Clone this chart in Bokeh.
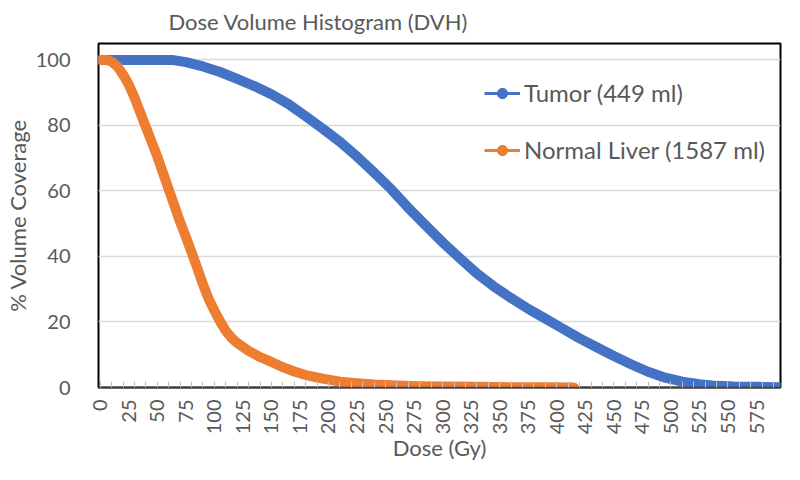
from math import pi
from bokeh.plotting import figure
from bokeh.models import FixedTicker, Range1d, Legend, LegendItem
from bokeh.embed import file_html
from bokeh.resources import INLINE

# ---- data ----
tumor_dose = [0, 25, 50, 63, 75, 90, 105, 120, 135, 150, 165, 180, 195, 210, 225, 240,
              255, 270, 285, 300, 315, 330, 345, 360, 375, 390, 405, 420, 435, 450, 465,
              480, 495, 510, 525, 540, 555, 575, 595]
tumor_pct = [100, 100, 100, 100, 99.3, 98, 96.3, 94.2, 92, 89.5, 86.5, 82.8, 79, 75, 70.5, 65.6,
             60.5, 54.8, 49.5, 44.3, 39.5, 34.8, 30.8, 27.3, 24, 21, 18, 15, 12.3, 9.6, 7.1,
             4.8, 3, 1.8, 1, 0.5, 0.3, 0.2, 0.1]
liver_dose = [0, 5, 10, 15, 20, 25, 30, 35, 40, 45, 50, 55, 60, 65, 70, 75, 80, 85, 90, 95,
              100, 105, 110, 115, 120, 130, 140, 150, 160, 170, 180, 195, 210, 225, 240, 260,
              280, 300, 330, 360, 390, 415]
liver_pct = [100, 100, 99.5, 98, 95.5, 92.5, 88.5, 84, 79.5, 75, 70.5, 65.5, 60.5, 55.5, 50.5, 46,
             41.3, 36.5, 31.5, 27, 23.5, 20.2, 17.3, 15.2, 13.6, 11.2, 9.3, 7.8, 6.2, 4.9, 3.8, 2.7,
             1.8, 1.3, 0.9, 0.6, 0.4, 0.3, 0.2, 0.1, 0.05, 0]
x_label_ticks = list(range(0, 600, 25))
x_mark_ticks = list(range(0, 600, 10))
y_ticks = [0, 20, 40, 60, 80, 100]
series_names = ["Tumor (449 ml)", "Normal Liver (1587 ml)"]

BLUE = "#4472C4"
ORANGE = "#ED7D31"
TXT = "#595959"
FONT = "Lato"

p = figure(width=784, height=464, output_backend="svg", toolbar_location=None,
           x_range=Range1d(-1.5, 596), y_range=Range1d(0, 105),
           min_border_left=89, min_border_right=4, min_border_top=36, min_border_bottom=0)
p.outline_line_color = "black"
p.outline_line_width = 2
p.background_fill_color = "white"
p.border_fill_color = "white"

p.title.text = "Dose Volume Histogram (DVH)"
p.title.align = "left"
p.title.vertical_align = "top"
p.title.offset = 70
p.title.standoff = 14
p.title.text_font = FONT
p.title.text_font_size = "22px"
p.title.text_font_style = "normal"
p.title.text_color = TXT

# y axis
p.yaxis.ticker = FixedTicker(ticks=y_ticks)
p.yaxis.axis_line_color = None
p.yaxis.major_tick_line_color = None
p.yaxis.minor_tick_line_color = None
p.yaxis.major_label_text_font = FONT
p.yaxis.major_label_text_font_size = "20px"
p.yaxis.major_label_text_color = TXT
p.yaxis.major_label_standoff = 22
p.yaxis.axis_label = "% Volume Coverage"
p.yaxis.axis_label_text_font = FONT
p.yaxis.axis_label_text_font_size = "22px"
p.yaxis.axis_label_text_font_style = "normal"
p.yaxis.axis_label_text_color = TXT
p.yaxis.axis_label_standoff = 2
p.ygrid.ticker = FixedTicker(ticks=y_ticks)
p.ygrid.grid_line_color = "#d9d9d9"
p.ygrid.grid_line_width = 1.5
p.xgrid.visible = False

# x axis: labels every 25, small inside tick marks every 10
xa = p.xaxis[0]
xa.ticker = FixedTicker(ticks=x_label_ticks, minor_ticks=x_mark_ticks)
xa.major_tick_in = 0
xa.major_tick_out = 0
xa.minor_tick_in = 6
xa.minor_tick_out = 0
xa.minor_tick_line_color = "#bfbfbf"
xa.minor_tick_line_width = 1
xa.axis_line_color = "#404040"
xa.axis_line_width = 1.5
xa.major_label_orientation = pi / 2
xa.major_label_standoff = 12
xa.major_label_text_font = FONT
xa.major_label_text_font_size = "20px"
xa.major_label_text_color = TXT
xa.axis_label = "Dose (Gy)"
xa.axis_label_text_font = FONT
xa.axis_label_text_font_size = "22px"
xa.axis_label_text_font_style = "normal"
xa.axis_label_text_color = TXT
xa.axis_label_standoff = -3

# legend proxies (thin line + dot), drawn underneath the thick curves
lt = p.line(tumor_dose, tumor_pct, line_color=BLUE, line_width=3)
st = p.scatter(tumor_dose, tumor_pct, size=8, color=BLUE)
ll = p.line(liver_dose, liver_pct, line_color=ORANGE, line_width=3)
sl = p.scatter(liver_dose, liver_pct, size=8, color=ORANGE)

# curves
p.line(tumor_dose, tumor_pct, line_color=BLUE, line_width=10, line_cap="round", line_join="round")
p.line(liver_dose, liver_pct, line_color=ORANGE, line_width=10, line_cap="round", line_join="round")

legend = Legend(items=[LegendItem(label=series_names[0], renderers=[lt, st]),
                       LegendItem(label=series_names[1], renderers=[ll, sl])],
                location=(386, 223), orientation="vertical",
                glyph_width=36, glyph_height=26, label_height=26, spacing=28,
                padding=0, margin=0, label_standoff=4,
                background_fill_alpha=0, border_line_color=None,
                label_text_font=FONT, label_text_font_size="24px", label_text_color=TXT)
p.add_layout(legend)

open("out.html", "w").write(file_html(p, INLINE))
